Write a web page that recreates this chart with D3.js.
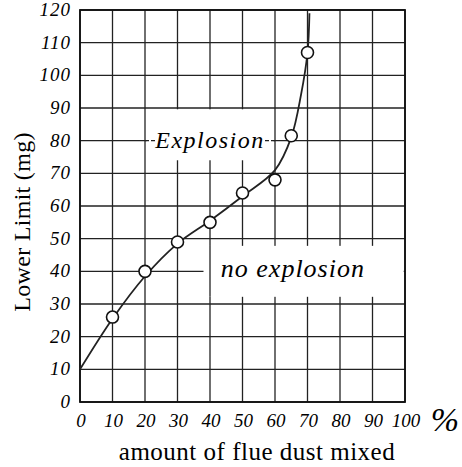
<!DOCTYPE html>
<html>

<head>
    <style>
        body { margin: 0; background: #fff; }
        svg { display: block; }
    </style>
</head>

<body>
    <script src="https://d3js.org/d3.v7.min.js"></script>
    <div id="chart"></div>
    <script>
        const width = 462
        const height = 467
        const padding = { top: 10, left: 80, right: 57, bottom: 65 }

        // measured points (amount of flue dust %, lower limit mg)
        const dustPct = [10, 20, 30, 40, 50, 60, 65, 70]
        const lowerLimit = [26, 40, 49, 55, 64, 68, 81.5, 107]

        // hand drawn boundary curve
        const curveX = [0, 10, 20, 30, 40, 50, 60, 65, 68, 70, 70.6]
        const curveY = [10, 25.5, 38.5, 48.5, 55.5, 63, 71, 81, 94, 107, 119]

        const xTicks = [0, 10, 20, 30, 40, 50, 60, 70, 80, 90, 100]
        const yTicks = [0, 10, 20, 30, 40, 50, 60, 70, 80, 90, 100, 110, 120]

        const serif = "Liberation Serif"

        const x = d3.scaleLinear().domain([0, 100]).range([padding.left, width - padding.right])
        const y = d3.scaleLinear().domain([0, 120]).range([height - padding.bottom, padding.top])

        const svg = d3.select("#chart").append("svg").attr("width", width).attr("height", height)

        // grid
        const grid = svg.append("g").attr("stroke", "#222").attr("stroke-width", 1.3)
        grid.selectAll(".vline")
            .data(xTicks)
            .enter()
            .append("line")
            .attr("class", "vline")
            .attr("x1", d => x(d)).attr("x2", d => x(d))
            .attr("y1", y(0)).attr("y2", y(120))
        grid.selectAll(".hline")
            .data(yTicks)
            .enter()
            .append("line")
            .attr("class", "hline")
            .attr("x1", x(0)).attr("x2", x(100))
            .attr("y1", d => y(d)).attr("y2", d => y(d))

        // blank boxes where the labels are written
        svg.append("rect")
            .attr("x", x(20) + 1.5).attr("y", y(89.6))
            .attr("width", x(60) - x(20) - 3).attr("height", y(74.5) - y(89.6))
            .attr("fill", "#fff")
        svg.append("line")
            .attr("x1", x(20)).attr("x2", x(60))
            .attr("y1", y(80)).attr("y2", y(80))
            .attr("stroke", "#222").attr("stroke-width", 1.2)
            .attr("stroke-dasharray", "4,2")
        svg.append("rect")
            .attr("x", x(23.5)).attr("y", y(86))
            .attr("width", x(56.5) - x(23.5)).attr("height", y(74) - y(86))
            .attr("fill", "#fff")

        svg.append("rect")
            .attr("x", x(38)).attr("y", y(47.8))
            .attr("width", x(99.6) - x(38)).attr("height", y(32.2) - y(47.8))
            .attr("fill", "#fff")
        svg.append("line")
            .attr("x1", x(40)).attr("x2", x(40))
            .attr("y1", y(47.8)).attr("y2", y(32.2))
            .attr("stroke", "#222").attr("stroke-width", 1.3)

        // frame
        svg.append("rect")
            .attr("x", x(0)).attr("y", y(120))
            .attr("width", x(100) - x(0)).attr("height", y(0) - y(120))
            .attr("fill", "none").attr("stroke", "#111").attr("stroke-width", 1.8)

        // boundary curve
        const line = d3.line()
            .x(d => x(d[0]))
            .y(d => y(d[1]))
            .curve(d3.curveCatmullRom)
        svg.append("path")
            .datum(d3.zip(curveX, curveY))
            .attr("d", line)
            .attr("fill", "none")
            .attr("stroke", "#222")
            .attr("stroke-width", 1.8)

        svg.selectAll(".pt")
            .data(d3.zip(dustPct, lowerLimit))
            .enter()
            .append("circle")
            .attr("class", "pt")
            .attr("cx", d => x(d[0]))
            .attr("cy", d => y(d[1]))
            .attr("r", 6)
            .attr("fill", "#fff")
            .attr("stroke", "#111")
            .attr("stroke-width", 1.6)

        // tick labels
        svg.append("g")
            .selectAll("text")
            .data(yTicks)
            .enter()
            .append("text")
            .attr("x", x(0) - 9)
            .attr("y", d => y(d) + 6)
            .attr("text-anchor", "end")
            .style("font-family", serif)
            .style("font-style", "italic")
            .style("font-size", "19px")
            .style("letter-spacing", "1px")
            .text(d => d)

        svg.append("g")
            .selectAll("text")
            .data(xTicks)
            .enter()
            .append("text")
            .attr("x", d => x(d) + 1)
            .attr("y", y(0) + 25)
            .attr("text-anchor", "middle")
            .style("font-family", serif)
            .style("font-style", "italic")
            .style("font-size", "19px")
            .text(d => d)

        svg.append("text")
            .attr("x", 445)
            .attr("y", y(0) + 29)
            .attr("text-anchor", "middle")
            .style("font-family", serif)
            .style("font-style", "italic")
            .style("font-size", "34px")
            .text("%")

        // region labels
        svg.append("text")
            .attr("x", x(40))
            .attr("y", y(80) + 7)
            .attr("text-anchor", "middle")
            .style("font-family", serif)
            .style("font-style", "italic")
            .style("font-size", "24px")
            .style("letter-spacing", "1.5px")
            .text("Explosion")
        svg.append("text")
            .attr("x", x(65.5))
            .attr("y", y(40) + 6)
            .attr("text-anchor", "middle")
            .style("font-family", serif)
            .style("font-style", "italic")
            .style("font-size", "26px")
            .style("letter-spacing", "1px")
            .text("no explosion")

        // axis titles
        svg.append("text")
            .attr("x", 257)
            .attr("y", 460)
            .attr("text-anchor", "middle")
            .style("font-family", serif)
            .style("font-size", "25px")
            .style("letter-spacing", "0.5px")
            .text("amount of flue dust mixed")
        svg.append("text")
            .attr("transform", "translate(30," + 222 + ") rotate(-90)")
            .attr("text-anchor", "middle")
            .style("font-family", serif)
            .style("font-size", "24px")
            .style("letter-spacing", "0.3px")
            .text("Lower Limit (mg)")
    </script>
</body>

</html>
